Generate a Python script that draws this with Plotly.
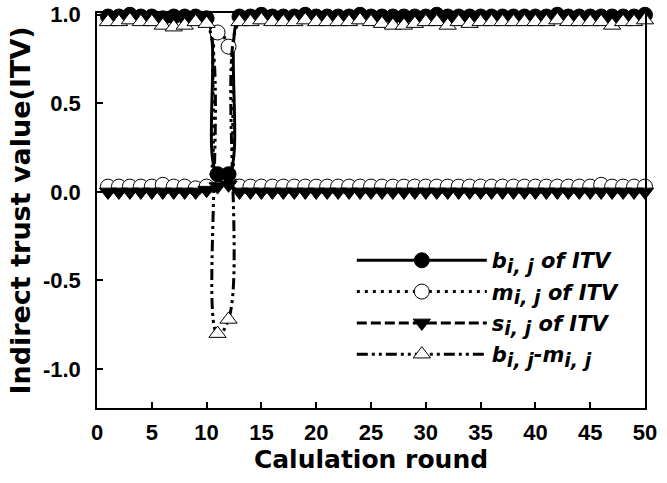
import plotly.graph_objects as go

rounds = list(range(1, 51))

b_itv = [0.99, 0.99, 1.00, 0.99, 0.99, 0.98, 0.99, 0.99, 0.99, 0.98,
         0.10, 0.10, 0.99, 0.99, 1.00, 0.99, 0.99, 0.99, 1.00, 0.99,
         0.99, 0.99, 0.99, 1.00, 0.99, 0.99, 0.99, 0.99, 0.99, 0.99,
         1.00, 0.99, 0.99, 0.99, 0.99, 0.99, 0.99, 0.99, 0.99, 0.99,
         0.99, 1.00, 0.99, 0.99, 0.99, 0.99, 0.99, 0.99, 0.99, 1.00]

m_itv = [0.03, 0.03, 0.03, 0.03, 0.03, 0.04, 0.03, 0.03, 0.02, 0.03,
         0.90, 0.82, 0.03, 0.03, 0.03, 0.03, 0.03, 0.03, 0.03, 0.03,
         0.03, 0.03, 0.03, 0.03, 0.03, 0.03, 0.03, 0.03, 0.03, 0.03,
         0.03, 0.03, 0.03, 0.03, 0.03, 0.03, 0.03, 0.03, 0.03, 0.03,
         0.03, 0.03, 0.03, 0.03, 0.03, 0.04, 0.03, 0.03, 0.03, 0.03]

s_itv = [0.00, 0.00, 0.00, 0.00, 0.00, 0.00, 0.00, 0.00, 0.00, 0.01,
         0.03, 0.04, 0.00, 0.00, 0.00, 0.00, 0.00, 0.00, 0.00, 0.00,
         0.00, 0.00, 0.00, 0.00, 0.00, 0.00, 0.00, 0.00, 0.00, 0.00,
         0.00, 0.00, 0.00, 0.00, 0.00, 0.00, 0.00, 0.00, 0.00, 0.00,
         0.00, 0.00, 0.00, 0.00, 0.00, 0.00, 0.00, 0.00, 0.00, 0.00]

b_minus_m = [0.96, 0.96, 0.97, 0.96, 0.96, 0.94, 0.93, 0.94, 0.96, 0.95,
             -0.80, -0.72, 0.96, 0.96, 0.97, 0.96, 0.96, 0.96, 0.97, 0.96,
             0.96, 0.96, 0.96, 0.97, 0.96, 0.95, 0.94, 0.94, 0.95, 0.96,
             0.96, 0.94, 0.96, 0.95, 0.96, 0.96, 0.96, 0.96, 0.96, 0.96,
             0.96, 0.97, 0.96, 0.96, 0.96, 0.96, 0.94, 0.96, 0.96, 0.97]

x_ticks = [0, 5, 10, 15, 20, 25, 30, 35, 40, 45, 50]
x_tick_labels = ["0", "5", "10", "15", "20", "25", "30", "35", "40", "45", "50"]
y_ticks = [-1.0, -0.5, 0.0, 0.5, 1.0]
y_tick_labels = ["-1.0", "-0.5", "0.0", "0.5", "1.0"]

SUB = "<sub><span style='font-size:19px'>i, j</span></sub>"
names = [
    "<b><i>b" + SUB + " of ITV</i></b>",
    "<b><i>m" + SUB + " of ITV</i></b>",
    "<b><i>s" + SUB + " of ITV</i></b>",
    "<b><i>b" + SUB + "-m" + SUB + "</i></b>",
]

fig = go.Figure()
fig.add_trace(go.Scatter(
    x=rounds, y=b_itv, name=names[0], mode="lines+markers", legendgroup="a", cliponaxis=False,
    line=dict(color="black", width=3, shape="spline", smoothing=1.3),
    marker=dict(symbol="circle", size=15, color="black", line=dict(color="black", width=1)),
))
fig.add_trace(go.Scatter(
    x=rounds, y=m_itv, name=names[1], mode="lines+markers", legendgroup="b", cliponaxis=False,
    line=dict(color="black", width=3, dash="3px,5px", shape="spline", smoothing=1.3),
    marker=dict(symbol="circle", size=15, color="white", line=dict(color="black", width=1)),
))
fig.add_trace(go.Scatter(
    x=rounds, y=s_itv, name=names[2], mode="lines+markers", legendgroup="c", cliponaxis=False,
    line=dict(color="black", width=3, dash="10px,4px", shape="spline", smoothing=1.3),
    marker=dict(symbol="triangle-down", size=15, color="black", line=dict(color="black", width=1)),
))
fig.add_trace(go.Scatter(
    x=rounds, y=b_minus_m, name=names[3], mode="lines+markers", legendgroup="d", cliponaxis=False,
    line=dict(color="black", width=3, dash="11px,4px,3px,4px,3px,4px", shape="spline", smoothing=1.3),
    marker=dict(symbol="triangle-up", size=15, color="white", line=dict(color="black", width=1)),
))

tick_family = "Liberation Sans"
title_family = "DejaVu Sans"

fig.update_layout(
    width=667, height=483,
    margin=dict(l=97, r=22, t=13, b=75, autoexpand=False),
    paper_bgcolor="white", plot_bgcolor="white",
    font=dict(family=tick_family, color="black", size=22),
    showlegend=True,
    legend=dict(
        x=0.465, y=0.425, xanchor="left", yanchor="top",
        bgcolor="rgba(0,0,0,0)", borderwidth=0,
        font=dict(size=21, family=title_family, color="black"),
        itemwidth=130, tracegroupgap=1,
    ),
    xaxis=dict(
        range=[0, 50], tickmode="array", tickvals=x_ticks,
        ticktext=["<b>" + t + "</b>" for t in x_tick_labels],
        ticks="inside", ticklen=6, tickwidth=1.5, tickcolor="black",
        showline=True, linecolor="black", linewidth=1.5, mirror=True,
        showgrid=False, zeroline=False, automargin=False,
        tickfont=dict(size=22, family=tick_family, color="black"),
        ticklabelstandoff=4,
        title=dict(text="<b>Calulation round</b>",
                   font=dict(size=25, family=title_family, color="black"), standoff=2),
    ),
    yaxis=dict(
        range=[-1.22, 1.01], tickmode="array", tickvals=y_ticks,
        ticktext=["<b>" + t + "</b>" for t in y_tick_labels],
        ticks="inside", ticklen=6, tickwidth=1.5, tickcolor="black",
        showline=True, linecolor="black", linewidth=1.5, mirror=True,
        showgrid=False, zeroline=False, automargin=False,
        tickfont=dict(size=22, family=tick_family, color="black"),
        ticklabelstandoff=10,
        title=dict(text="<b>Indirect trust value(ITV)</b>",
                   font=dict(size=27, family=title_family, color="black"), standoff=4),
    ),
)

fig.write_html("out.html", config={"displayModeBar": False},
               post_script="document.body.style.margin='0';")
